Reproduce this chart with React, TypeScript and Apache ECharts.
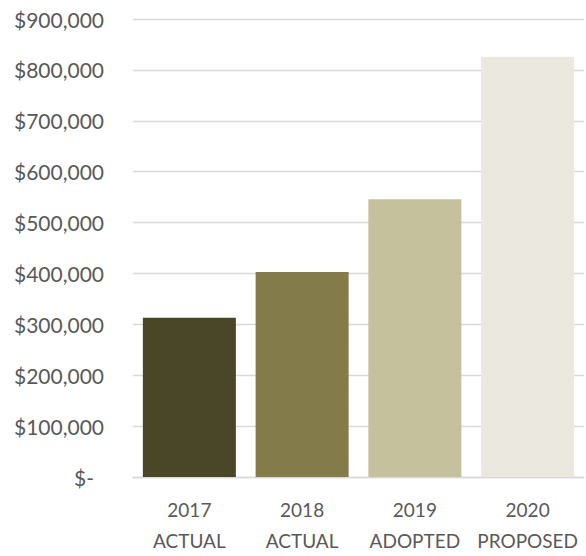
import React, { useEffect, useRef } from "react";
import * as echarts from "echarts";

const categories = ["2017\nACTUAL", "2018\nACTUAL", "2019\nADOPTED", "2020\nPROPOSED"];
const values = [313000, 403000, 546000, 826000];
const barColors = ["#4A4729", "#837C4A", "#C5C19C", "#EBE9DF"];
const yMin = 0;
const yMax = 900000;
const yInterval = 100000;

const FONT = "Lato, 'Open Sans', sans-serif";
const TEXT = "#595959";

export default function App() {
  const ref = useRef<HTMLDivElement>(null);
  useEffect(() => {
    if (!ref.current) return;
    const chart = echarts.init(ref.current, undefined, { renderer: "svg" });
    chart.setOption({
      animation: false,
      backgroundColor: "#ffffff",
      grid: { left: 133, right: 2, top: 19, bottom: 74, containLabel: false },
      xAxis: {
        type: "category",
        data: categories,
        axisLine: { show: true, lineStyle: { color: "#D9D9D9", width: 1.3 } },
        axisTick: { show: false },
        axisLabel: {
          color: TEXT,
          fontFamily: FONT,
          fontSize: 19,
          lineHeight: 31,
          margin: 17,
          interval: 0,
        },
      },
      yAxis: {
        type: "value",
        min: yMin,
        max: yMax,
        interval: yInterval,
        axisLine: { show: false },
        axisTick: { show: false },
        splitLine: { lineStyle: { color: "#D9D9D9", width: 1.3 } },
        axisLabel: {
          color: TEXT,
          fontFamily: FONT,
          fontSize: 21,
          margin: 29,
          formatter: (v: number) =>
            v === 0 ? "{z|$-}" : "$" + v.toLocaleString("en-US"),
          rich: {
            z: { color: TEXT, fontFamily: FONT, fontSize: 21, padding: [0, 10, 0, 0] },
          },
        },
      },
      series: [
        {
          type: "bar",
          data: values.map((v, i) => ({ value: v, itemStyle: { color: barColors[i] } })),
          barCategoryGap: "17.5%",
        },
      ],
    });
    return () => chart.dispose();
  }, []);
  return (
    <div
      ref={ref}
      style={{ position: "absolute", left: 0, top: 0, width: 586, height: 556 }}
    />
  );
}
